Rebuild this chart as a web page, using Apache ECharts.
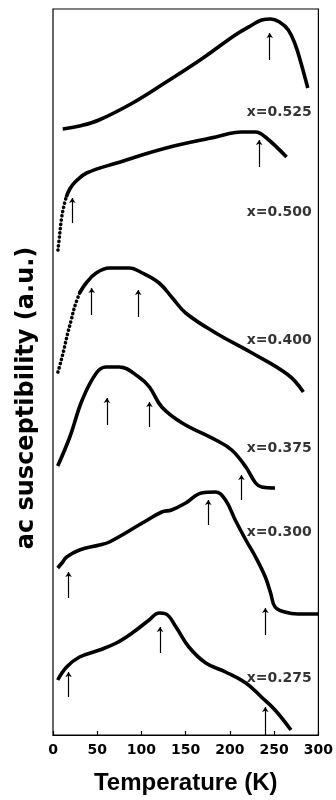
<!DOCTYPE html>
<html>
<head>
<meta charset="utf-8">
<script src="https://cdn.jsdelivr.net/npm/echarts@6/dist/echarts.min.js"></script>
<style>html,body{margin:0;padding:0;background:#fff}#c{width:336px;height:800px}</style>
</head>
<body>
<div id="c"></div>
<script>
// Temperature (K) / ac susceptibility (a.u., offset per curve)
var t525 = [11,30,52,90,128,168,206,225,236,246,256,266,274,280,288];
var v525 = [606,609,615,632,653,676,700,710,715,716,713,705,690,673,647];

var t500dot = [5.6,7.5,9.4,12,15];
var v500dot = [485,500,515,528,538];
var t500 = [15,19,25,38,72,128,184,213,229,240,264];
var v500 = [538,546,553,562,572,587,598,603,603,598,578];

var t400dot = [5.6,9.4,13,16.7,20.6,24.4,30];
var v400dot = [363,375,388,402,415,428,442];
var t400 = [30,37.5,48.8,63.7,86,101,120,135,150,184,225,266,283];
var v400 = [442,452,462,467,467,462,452,437,422,402,382,360,343];

var t375 = [5.3,19,33,49,60,75,97,109,123,146,184,202,218,229,236,251];
var v375 = [269,298,335,362,368,368,358,348,328,312,295,285,268,252,248,247];

var t300 = [5.3,11,15.4,30,52.5,63.7,101,123,134,150,168,184,195,206,218,229,240,246,251,262,277,300];
var v300 = [167,173,178,185,190,193,212,223,225,232,242,243,235,215,195,178,158,142,128,123,121,121];

var t275 = [5.3,15.4,30,52.5,71.6,89.5,108.7,120,127.8,139,153.6,172.7,195,218,235.6,251,269];
var v275 = [55,68,78,85,92,102,115,122,121,108,88,72,63,52,38,25,5];

// arrows: [T, low, high]
var arr525 = [[245,675,702]];
var arr500 = [[21.8,512,537],[233,568,595]];
var arr400 = [[43.8,420,447],[96.3,418,445]];
var arr375 = [[61,310,337],[109,308,333],[213,235,260]];
var arr300 = [[175.5,210,235],[17.6,137,163],[240,100,127]];
var arr275 = [[17.6,38,63],[121,82,108],[240,0,28]];

var labelText = ['x=0.525','x=0.500','x=0.400','x=0.375','x=0.300','x=0.275'];
var labelT = [293,293,293,293,293,293];
var labelV = [623,523,395,287,203,57];

var xTicks = [0,50,100,150,200,250,300];

function pairs(t, v){ return t.map(function(x,i){return [x, v[i]];}); }
function arrows(a){
  return {
    silent: true, symbol: ['none','arrow'], symbolSize: 5, animation:false,
    label:{show:false}, emphasis:{disabled:true},
    lineStyle:{color:'#000', width:1.2, type:'solid'},
    data: a.map(function(r){ return [{coord:[r[0], r[1]]},{coord:[r[0], r[2]]}]; })
  };
}
function curve(t, v, a){
  return {type:'line', data:pairs(t,v), smooth:0.4, showSymbol:false, silent:true,
    lineStyle:{color:'#000', width:3.6}, markLine: a ? arrows(a) : undefined, animation:false};
}
function dotted(t, v){
  return {type:'line', data:pairs(t,v), smooth:0.35, showSymbol:false, silent:true,
    lineStyle:{color:'#000', width:3.6, type:[0.1,4.2], cap:'round'}, animation:false};
}

var chart = echarts.init(document.getElementById('c'));
chart.setOption({
  backgroundColor:'#fff',
  animation:false,
  grid:{left:53, right:16, top:9, bottom:65, show:true, borderColor:'#000', borderWidth:1.2},
  xAxis:{type:'value', min:0, max:300, interval:50,
    axisLine:{show:true, lineStyle:{color:'#000', width:1.2}},
    axisTick:{show:true, inside:true, length:4, lineStyle:{color:'#000', width:1.2}},
    splitLine:{show:false},
    axisLabel:{color:'#000', fontFamily:'DejaVu Sans', fontWeight:'bold', fontSize:14, margin:8,
      formatter:function(v){ return xTicks.indexOf(v) >= 0 ? String(v) : ''; }},
    name:'Temperature (K)', nameLocation:'middle', nameGap:36,
    nameTextStyle:{color:'#000', fontFamily:'Liberation Sans', fontWeight:'bold', fontSize:24}
  },
  yAxis:{type:'value', min:0, max:726, show:true,
    axisLine:{show:false}, axisTick:{show:false}, axisLabel:{show:false}, splitLine:{show:false}},
  graphic:[{type:'text', x:27, y:398, rotation:Math.PI/2,
    style:{text:'ac susceptibility (a.u.)', fill:'#000', font:'bold 24px "DejaVu Sans"', align:'center', verticalAlign:'middle'}}],
  series:[
    curve(t525, v525, arr525),
    dotted(t500dot, v500dot),
    curve(t500, v500, arr500),
    dotted(t400dot, v400dot),
    curve(t400, v400, arr400),
    curve(t375, v375, arr375),
    curve(t300, v300, arr300),
    curve(t275, v275, arr275),
    {type:'scatter', silent:true, symbolSize:1, itemStyle:{color:'rgba(0,0,0,0)'},
      data: labelT.map(function(x,i){ return {value:[x, labelV[i]], name:labelText[i]}; }),
      label:{show:true, position:'left', distance:0, formatter:function(p){return p.name;},
        color:'#000', fontFamily:'DejaVu Sans', fontWeight:'bold', fontSize:14}}
  ]
});
</script>
</body>
</html>
